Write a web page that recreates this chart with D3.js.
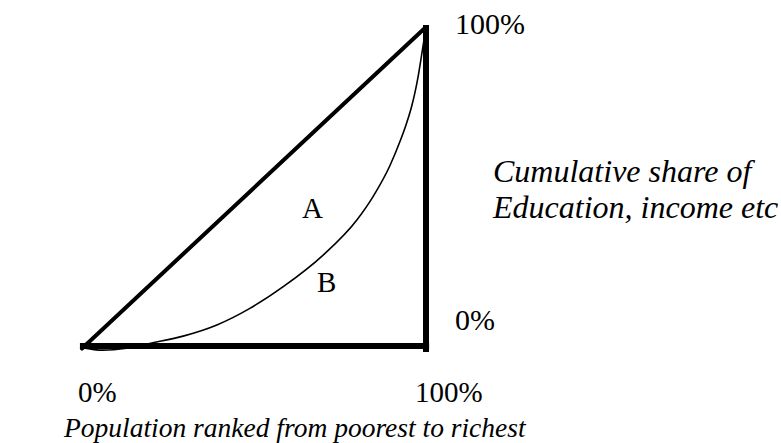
<!DOCTYPE html>
<html><head><meta charset="utf-8">
<script src="https://cdn.jsdelivr.net/npm/d3@7"></script>
<style>body{margin:0;background:#fff}svg{display:block}</style>
</head><body>
<svg id="c" width="781" height="443"></svg>
<script>
// Lorenz curve points (population share, cumulative share)
const curveX = [0, 0.06, 0.13, 0.206, 0.294, 0.392, 0.488, 0.585, 0.701, 0.799, 0.847, 0.895, 0.924, 0.944, 0.958, 0.968, 0.978, 0.987, 1];
const curveY = [-0.005, -0.013, -0.007, 0.01, 0.031, 0.066, 0.118, 0.186, 0.285, 0.395, 0.47, 0.565, 0.64, 0.70, 0.75, 0.795, 0.85, 0.91, 1];
const equalityX = [0, 1];
const equalityY = [-0.008, 1];
const xTickLabels = ["0%", "100%"];
const yTickLabels = ["0%", "100%"];
const areaLabels = ["A", "B"];
const xTitle = "Population ranked from poorest to richest";
const yTitle = ["Cumulative share of", "Education, income etc"];

const FONT = "'Liberation Serif', 'DejaVu Serif', serif";
const svg = d3.select("#c");
const x = d3.scaleLinear().domain([0, 1]).range([82, 426]);
const y = d3.scaleLinear().domain([0, 1]).range([346, 27]);

// frame: bottom axis and right axis (thick)
svg.append("line").attr("x1", x(-0.006)).attr("x2", x(1.009)).attr("y1", y(0)).attr("y2", y(0))
  .attr("stroke", "#000").attr("stroke-width", 6);
svg.append("line").attr("x1", x(1)).attr("x2", x(1)).attr("y1", y(-0.019)).attr("y2", y(1.006))
  .attr("stroke", "#000").attr("stroke-width", 6);

// line of equality
const line = d3.line().x(d => x(d[0])).y(d => y(d[1]));
svg.append("path").datum(equalityX.map((v, i) => [v, equalityY[i]]))
  .attr("d", line).attr("fill", "none").attr("stroke", "#000").attr("stroke-width", 4).attr("stroke-linecap", "round");

// Lorenz curve
const lc = d3.line().x(d => x(d[0])).y(d => y(d[1])).curve(d3.curveMonotoneX);
svg.append("path").datum(curveX.map((v, i) => [v, curveY[i]]))
  .attr("d", lc).attr("fill", "none").attr("stroke", "#000").attr("stroke-width", 1.6);

function txt(px, py, s, size, italic) {
  svg.append("text").attr("x", px).attr("y", py)
    .style("font-family", FONT).style("font-size", size + "px")
    .style("font-style", italic ? "italic" : "normal")
    .attr("fill", "#000").text(s);
}
// area labels
txt(302, 218, areaLabels[0], 29);
txt(317, 292, areaLabels[1], 29);
// y tick labels
txt(455, 34, yTickLabels[1], 30);
txt(455, 330, yTickLabels[0], 30);
// x tick labels
txt(78, 402, xTickLabels[0], 29);
txt(415, 402, xTickLabels[1], 29);
// titles
txt(493, 182, yTitle[0], 32, true);
txt(493, 218, yTitle[1], 32, true);
txt(64, 437, xTitle, 27.5, true);
</script>
</body></html>
